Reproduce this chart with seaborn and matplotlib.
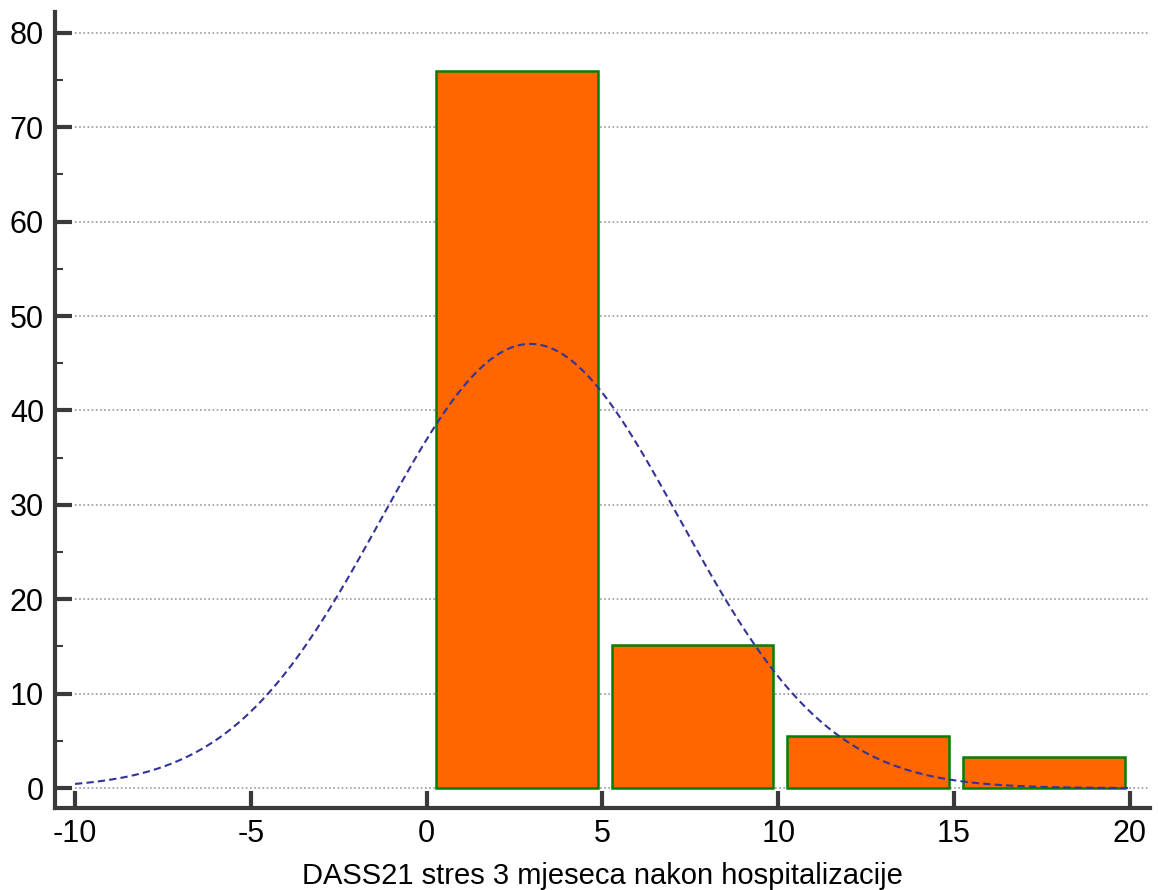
import numpy as np
import pandas as pd
import matplotlib
matplotlib.use("Agg")
import matplotlib.pyplot as plt
import seaborn as sns

# Data
bin_centers = [2.56, 7.56, 12.56, 17.56]
bar_heights = [76.0, 15.2, 5.5, 3.3]
x_ticks = [-10, -5, 0, 5, 10, 15, 20]
y_ticks = [0, 10, 20, 30, 40, 50, 60, 70, 80]
x_label = "DASS21 stres 3 mjeseca nakon hospitalizacije"

# Fitted normal curve parameters
fit_mean = 2.95
fit_sd = 4.24
fit_area = 500.0  # total count (100) x bin width (5)

sns.set_theme(style="white")
plt.rcParams['font.family'] = ['Liberation Sans', 'DejaVu Sans']

fig = plt.figure(figsize=(11.58, 8.90), dpi=100)
ax = fig.add_axes([0.0475, 0.092, 0.9455, 0.8945])

bars_df = pd.DataFrame({"x": bin_centers, "y": bar_heights})
sns.barplot(data=bars_df, x="x", y="y", native_scale=True, width=0.92,
            color="#ff6600", saturation=1, edgecolor="#008000", linewidth=1.8,
            ax=ax, zorder=3)

xs = np.linspace(-10, 20, 400)
ys = fit_area / (fit_sd * np.sqrt(2 * np.pi)) * np.exp(-0.5 * ((xs - fit_mean) / fit_sd) ** 2)
curve_df = pd.DataFrame({"x": xs, "y": ys})
sns.lineplot(data=curve_df, x="x", y="y", ax=ax, color="#333399",
             linewidth=1.5, linestyle=(0, (3.5, 2)), zorder=4)

ax.set_xlim(-10.57, 20.57)
ax.set_ylim(-2.12, 82.2)
ax.set_xticks(x_ticks)
ax.set_xticklabels([str(t) for t in x_ticks])
ax.set_yticks(y_ticks)
ax.set_yticklabels([str(t) for t in y_ticks])
ax.set_yticks([5, 15, 25, 35, 45, 55, 65, 75], minor=True)

ax.hlines(y_ticks, -10.0, 20.57, colors="#999999", linewidth=1.2,
          linestyles=[(0, (1, 1.5))], zorder=1)

for side in ["top", "right"]:
    ax.spines[side].set_visible(False)
for side in ["left", "bottom"]:
    ax.spines[side].set_color("#3a3a3a")
    ax.spines[side].set_linewidth(3)

ax.tick_params(axis="both", which="major", direction="in", length=12.5, width=3,
               color="#3a3a3a", labelsize=22, labelcolor="black", pad=8)
ax.tick_params(axis="y", which="minor", direction="in", length=6, width=1.5,
               color="#3a3a3a", left=True)
ax.tick_params(axis="x", which="major", bottom=True)
ax.tick_params(axis="y", which="major", left=True)

ax.set_xlabel(x_label, fontsize=21, color="black", labelpad=9)
ax.set_ylabel("")
ax.grid(False)

fig.savefig("out.png", dpi=100)
